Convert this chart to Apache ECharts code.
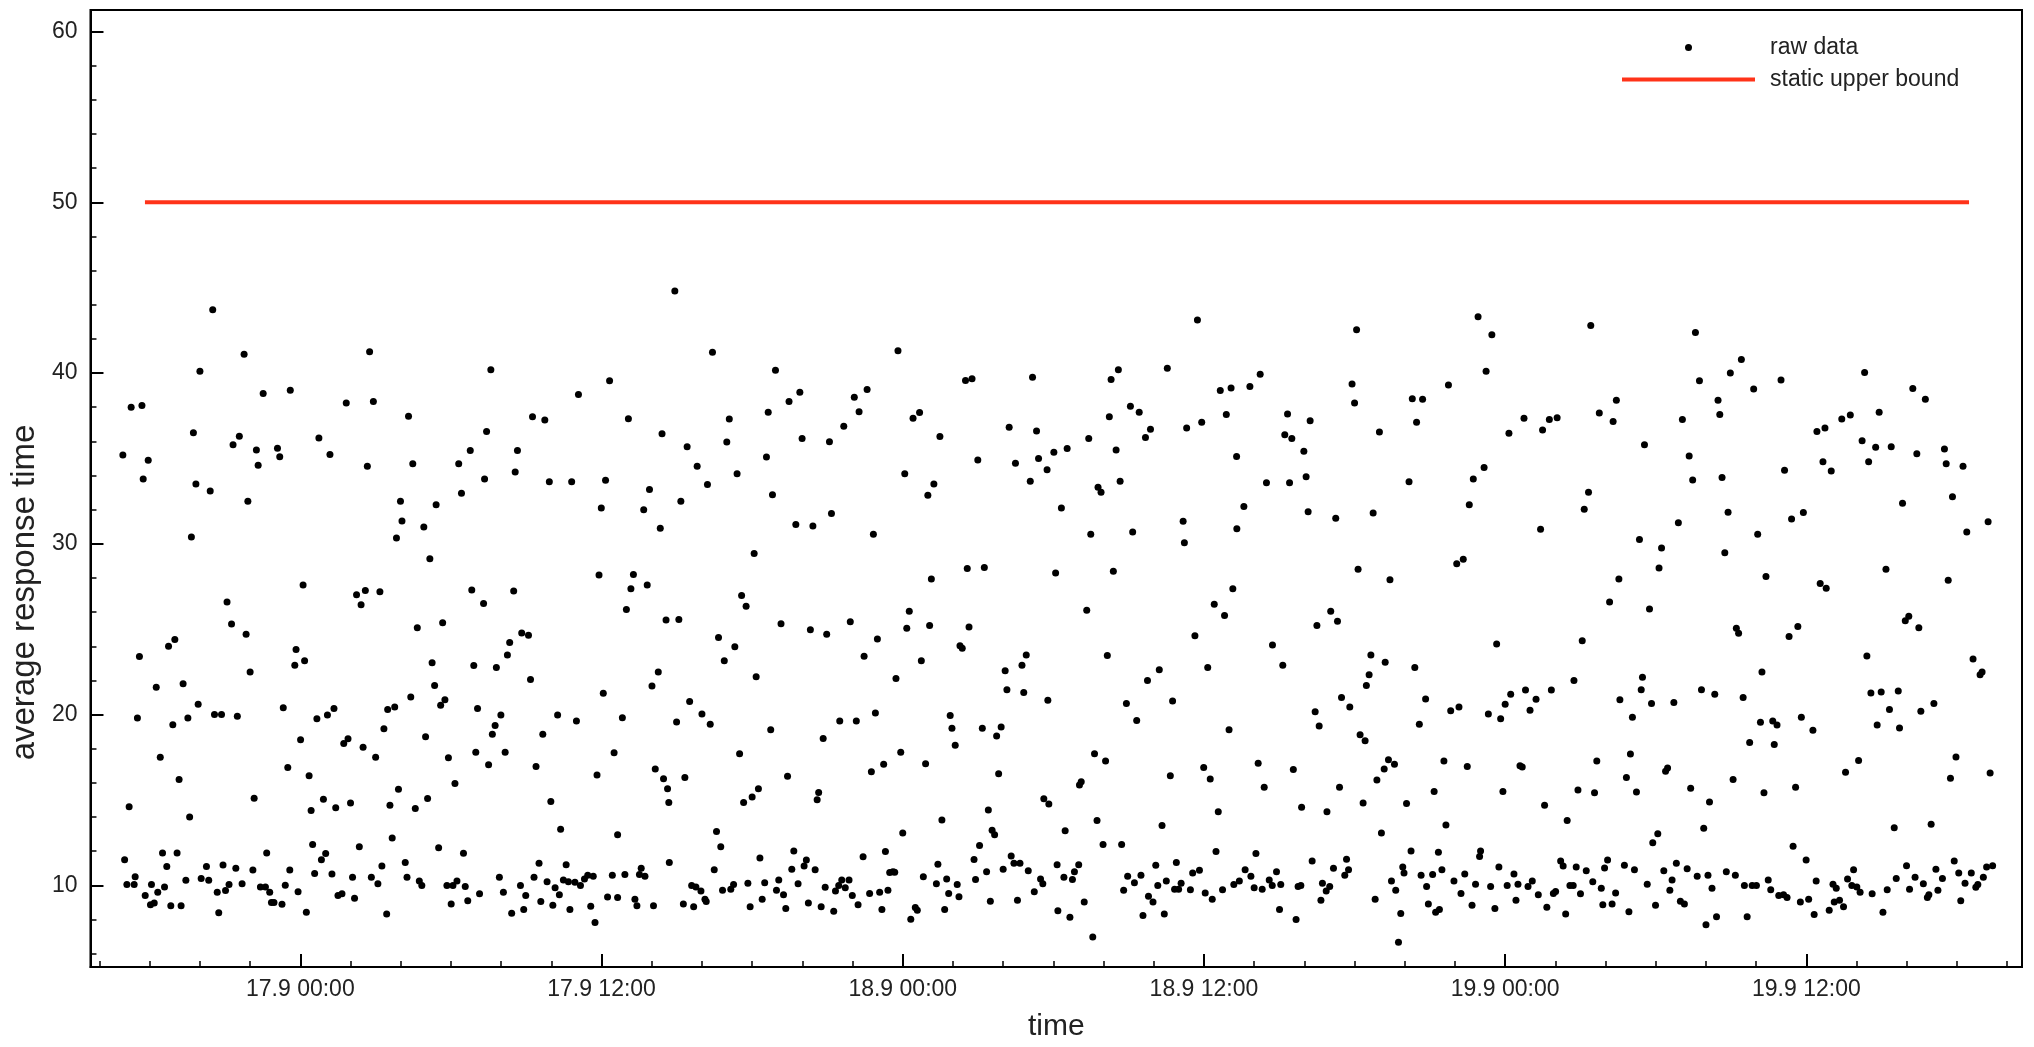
<!DOCTYPE html>
<html>
<head>
<meta charset="utf-8">
<script src="https://cdn.jsdelivr.net/npm/echarts@6/dist/echarts.min.js"></script>
<style>
html,body{margin:0;padding:0;background:#fff;}
#chart{width:2034px;height:1047px;}
</style>
</head>
<body>
<div id="chart"></div>
<script>
// x tick labels (ticks every 12 hours, starting 17.9 00:00)
const tickLabels = ['17.9 00:00', '17.9 12:00', '18.9 00:00', '18.9 12:00', '19.9 00:00', '19.9 12:00'];
// visible time range in hours relative to 17.9 00:00
const timeRangeHours = [-8.36, 68.59];
const valueRange = [5.22, 61.26];
// static upper bound
const upperBound = 50;
const upperBoundSpanHours = [-6.19, 66.48];
// raw data: [hours since 17.9 00:00, average response time]
const rawData = [
[-3.49,43.7],[-4.00,40.1],[-2.24,41.1],[-1.48,38.8],[-0.40,39.0],[-6.74,38.0],[-6.31,38.1],[-4.26,36.5],[-2.68,35.8],[-2.43,36.3],[-7.07,35.2],[-6.06,34.9],[-6.26,33.8],[-1.75,35.5],[-1.68,34.6],[-0.91,35.6],[-0.82,35.1],[-4.16,33.5],[-3.59,33.1],[-2.09,32.5],[-4.34,30.4],
[-2.92,26.6],[-2.74,25.3],[-2.16,24.7],[-2.00,22.5],[-6.41,23.4],[-5.25,24.0],[-5.00,24.4],[-4.67,21.8],[-5.74,21.6],[-6.49,19.8],[-4.07,20.6],[-4.48,19.8],[-5.08,19.4],[-3.42,20.0],[-3.14,20.0],[-2.51,19.9],[-0.68,20.4],[-5.58,17.5],[-4.83,16.2],[-6.82,14.6],[-4.41,14.0],[-1.84,15.1],[-0.50,16.9],
[-7.00,11.5],[-6.91,10.05],[-6.62,10.05],[-6.58,10.5],[-6.18,9.4],[-5.93,10.05],[-5.97,8.86],[-5.82,8.97],[-5.68,9.6],[-5.49,11.9],[-5.32,11.1],[-5.41,9.9],[-5.16,8.8],[-4.91,11.9],[-4.75,8.8],[-4.56,10.3],[-3.95,10.4],[-3.74,11.1],[-3.65,10.3],[-3.31,9.6],[-3.25,8.4],[-3.08,11.2],[-2.98,9.7],[-2.84,10.05],[-2.57,11.0],[-2.32,10.1],[-1.89,10.9],[-1.59,9.9],[-1.39,9.9],[-1.34,11.9],[-1.22,9.6],[-1.15,9.0],[-1.05,9.0],[-0.73,8.9],[-0.60,10.0],[-0.42,10.9],
[2.76,41.25],[1.83,38.25],[2.91,38.33],[4.31,37.47],[0.74,36.2],[1.18,35.23],[2.67,34.55],[4.48,34.69],[6.31,34.69],[6.77,35.47],[6.42,32.96],[3.99,32.5],[4.05,31.34],[3.83,30.34],[4.92,30.99],[5.41,32.29],[5.16,29.13],
[0.11,27.59],[2.24,27.02],[2.59,27.27],[2.42,26.43],[3.17,27.19],[6.83,27.29],[-0.17,23.81],[-0.22,22.89],[0.17,23.16],[4.66,25.08],[5.67,25.38],[5.25,23.03],[5.35,21.71],[5.59,20.55],[5.76,20.87],[6.91,22.87],[7.06,20.36],[0.66,19.76],[1.08,19.98],[1.34,20.36],[3.48,20.3],[3.76,20.44],[4.40,21.03],[3.33,19.17],[0.01,18.52],[1.73,18.31],[1.90,18.58],[2.50,18.09],[3.00,17.5],[4.99,18.71],[5.90,17.47],[6.99,17.79],[0.35,16.42],[0.43,14.39],[0.92,15.04],[1.41,14.55],[2.00,14.82],[3.91,15.63],[3.57,14.69],[4.58,14.5],[5.07,15.09],[6.16,15.96],
[0.49,12.4],[0.84,11.5],[1.01,11.86],[0.57,10.69],[-0.09,9.62],[0.24,8.43],[1.26,10.67],[1.50,9.4],[1.66,9.51],[2.16,9.24],[2.08,10.48],[2.35,12.26],[2.83,10.48],[3.09,10.1],[3.25,11.13],[3.44,8.32],[3.66,12.77],[4.18,11.34],[4.25,10.48],[4.74,10.26],[4.84,9.99],[5.51,12.21],[5.84,9.99],[6.08,9.99],[6.24,10.26],[6.01,8.91],[6.50,11.88],[6.57,9.94],[6.67,9.1],[7.14,9.51],
[7.59,40.19],[7.42,36.58],[12.32,39.55],[11.08,38.74],[9.25,37.44],[9.74,37.25],[8.65,35.47],[8.56,34.2],[13.07,37.33],[14.41,36.44],[7.34,33.8],[9.92,33.64],[10.81,33.64],[12.16,33.72],[11.99,32.1],[13.91,33.18],[13.68,31.99],[14.34,30.91],
[11.90,28.18],[13.17,27.37],[13.27,28.21],[13.82,27.59],[12.99,26.16],[14.57,25.54],[7.30,26.51],[8.50,27.24],[8.34,24.22],[8.25,23.49],[7.81,22.76],[8.82,24.78],[9.09,24.65],[9.17,22.06],[7.99,19.98],[7.76,19.36],[7.65,18.85],[8.16,17.79],[7.50,17.07],[10.25,19.98],[11.00,19.63],[9.66,18.85],[9.39,16.96],[9.98,14.91],[10.37,13.29],[12.07,21.25],[12.83,19.82],[11.82,16.47],[12.50,17.77],[12.64,12.96],[14.01,21.68],[14.26,22.49],[14.14,16.82],[14.47,16.25],[14.63,15.66],[14.68,14.85],
[7.93,10.48],[8.09,9.59],[8.42,8.37],[8.77,9.99],[8.90,8.59],[8.98,9.4],[9.31,10.48],[9.51,11.29],[9.58,9.05],[9.83,10.21],[10.06,8.83],[10.15,9.86],[10.32,9.45],[10.48,10.32],[10.59,11.21],[10.68,10.21],[10.74,8.59],[10.94,10.18],[11.16,9.99],[11.32,10.37],[11.45,10.59],[11.67,10.53],[11.57,8.78],[11.74,7.83],[12.24,9.32],[12.43,10.59],[12.64,9.29],[12.93,10.64],[13.33,9.18],[13.41,8.8],[13.51,10.64],[13.58,11.0],[13.73,10.53],[14.07,8.8],[14.70,11.34],
[14.92,44.81],[16.42,41.22],[18.93,40.17],[19.90,38.87],[19.47,38.33],[18.64,37.71],[17.09,37.31],[16.99,35.96],[15.41,35.69],[15.81,34.55],[17.40,34.1],[16.22,33.47],[18.57,35.09],[18.81,32.88],[19.99,36.17],[21.08,35.98],[21.65,36.88],[22.07,38.58],[22.26,37.74],[21.16,31.77],[19.74,31.13],[20.42,31.05],[15.16,32.5],[18.08,29.43],
[17.58,26.97],[17.76,26.35],[15.08,25.57],[16.66,24.51],[17.31,23.97],[16.89,23.16],[18.16,22.22],[19.15,25.32],[20.32,24.97],[20.97,24.7],[21.91,25.43],[15.51,20.76],[14.99,19.57],[16.00,20.03],[16.33,19.44],[18.74,19.12],[17.50,17.71],[20.83,18.6],[21.49,19.63],[22.15,19.63],[15.32,16.31],[17.66,14.85],[18.00,15.17],[18.25,15.66],[19.41,16.39],[20.65,15.44],[20.59,15.01],[16.58,13.15],[16.75,12.26],
[15.26,8.91],[15.67,8.75],[15.59,9.99],[15.76,9.91],[15.96,9.67],[16.12,9.18],[16.17,9.05],[16.49,10.91],[16.82,9.72],[17.15,9.78],[17.26,10.05],[17.83,10.13],[17.92,8.75],[18.31,11.61],[18.40,9.18],[18.50,10.16],[18.97,9.72],[19.06,10.32],[19.25,9.45],[19.34,8.64],[19.58,10.94],[19.66,12.02],[19.83,10.1],[20.07,11.13],[20.16,11.48],[20.24,8.97],[20.51,10.91],[20.75,8.75],[20.91,9.89],[21.25,8.48],[21.32,9.67],[21.45,9.99],[21.57,10.32],[21.71,9.86],[21.86,10.32],[21.99,9.4],[22.22,8.86],
[23.81,41.3],[22.58,39.03],[26.50,39.57],[26.76,39.66],[24.41,37.36],[24.67,37.69],[25.48,36.28],[24.08,34.1],[25.00,32.85],[25.24,33.5],[26.99,34.91],[28.24,36.82],[28.49,34.72],[29.17,39.76],[29.33,36.61],[29.41,34.99],[29.08,33.66],[29.75,34.34],[22.83,30.56],
[25.14,27.94],[26.57,28.56],[27.25,28.62],[24.26,26.05],[24.16,25.05],[25.07,25.22],[26.64,25.13],[22.99,24.43],[22.46,23.41],[26.28,24.03],[26.37,23.89],[24.74,23.16],[23.73,22.11],[28.08,22.57],[28.75,22.89],[28.92,23.49],[28.15,21.46],[28.82,21.3],[29.78,20.84],[22.91,20.09],[25.89,19.95],[25.96,19.2],[26.09,18.2],[27.17,19.2],[27.92,19.28],[27.74,18.74],[23.92,17.79],[23.24,17.09],[22.75,16.66],[24.91,17.12],[27.82,16.53],[29.62,15.07],[29.82,14.77],[25.56,13.83],[27.41,14.42],[24.00,13.07],[27.56,13.23],[27.66,12.96],
[22.42,11.67],[23.31,11.99],[22.68,9.53],[23.08,9.59],[23.41,9.72],[23.17,8.59],[23.48,10.75],[23.61,10.8],[23.68,10.77],[24.32,8.02],[24.50,8.7],[24.58,8.54],[24.82,10.51],[25.34,10.1],[25.40,11.24],[25.75,10.37],[25.83,9.53],[25.67,8.59],[26.17,10.05],[26.24,9.34],[26.84,11.51],[26.90,10.34],[27.06,12.34],[27.34,10.8],[27.49,9.07],[28.00,10.94],[28.32,11.72],[28.43,11.29],[28.67,11.29],[28.57,9.13],[29.00,10.86],[29.24,9.62],[29.49,10.37],[29.58,10.1],
[35.74,43.11],[34.54,40.28],[32.30,39.63],[32.59,40.19],[33.07,38.06],[33.42,37.71],[32.23,37.44],[33.87,36.71],[33.67,36.23],[35.31,36.79],[35.91,37.12],[36.65,38.98],[37.08,39.12],[36.89,37.58],[31.41,36.17],[30.55,35.58],[30.02,35.36],[32.50,35.5],[37.30,35.12],[30.32,32.1],[31.78,33.31],[31.90,33.02],[32.66,33.66],[35.17,31.32],[35.22,30.07],[37.31,30.88],[31.49,30.56],[33.16,30.69],
[30.09,28.29],[32.39,28.4],[31.33,26.11],[32.15,23.46],[36.41,26.46],[36.82,25.81],[37.15,27.37],[35.64,24.62],[36.15,22.76],[34.22,22.62],[33.75,22.0],[32.91,20.65],[33.32,19.66],[34.75,20.79],[37.00,19.12],[31.64,17.71],[32.08,17.28],[31.11,16.07],[31.04,15.88],[34.66,16.42],[35.99,16.9],[36.25,16.23],[30.47,13.2],[31.74,13.8],[34.33,13.5],[36.57,14.31],[31.98,12.4],[32.72,12.4],[36.48,11.99],
[30.15,11.21],[30.42,10.48],[30.76,10.34],[30.84,10.8],[31.01,11.21],[30.18,8.51],[30.66,8.13],[31.23,9.02],[31.57,6.97],[32.80,9.72],[32.96,10.53],[33.23,10.16],[33.49,10.59],[33.57,8.24],[33.79,9.37],[33.97,9.02],[34.16,9.99],[34.08,11.18],[34.42,8.32],[34.50,10.26],[34.90,11.34],[34.83,9.78],[34.99,9.78],[35.09,10.13],[35.46,9.75],[35.55,10.72],[35.82,10.88],[36.05,9.56],[36.33,9.18],[36.74,9.75],[37.19,10.05],[37.41,10.26],
[42.08,42.54],[38.24,39.93],[37.83,39.22],[41.90,39.36],[42.00,38.25],[44.30,38.49],[44.71,38.47],[44.47,37.12],[39.33,37.6],[40.23,37.2],[39.22,36.39],[39.50,36.17],[39.98,35.42],[42.99,36.55],[40.07,33.93],[38.49,33.58],[39.41,33.58],[44.17,33.64],[37.59,32.18],[40.15,31.88],[41.25,31.5],[42.74,31.8],
[42.14,28.51],[43.41,27.89],[41.05,26.05],[41.32,25.46],[40.50,25.22],[38.73,24.08],[39.14,22.89],[42.65,23.49],[43.22,23.06],[44.40,22.76],[42.58,22.33],[42.47,21.71],[41.48,21.0],[41.81,20.44],[40.43,20.17],[40.59,19.33],[44.83,20.92],[44.58,19.44],[42.22,18.82],[42.42,18.47],[38.16,17.15],[39.56,16.79],[38.40,15.74],[41.40,15.74],[42.89,16.17],[43.18,16.82],[43.35,17.36],[43.59,17.09],[39.89,14.58],[40.90,14.31],[42.34,14.82],[44.07,14.8],[43.07,13.07],
[38.07,11.86],[37.64,10.91],[37.87,10.53],[38.00,9.86],[38.32,9.78],[38.60,10.32],[38.72,9.99],[38.89,10.8],[39.06,10.05],[39.01,8.59],[39.67,8.0],[39.75,9.94],[39.86,9.99],[40.31,11.42],[40.66,9.13],[40.72,10.13],[40.87,9.67],[41.01,9.94],[41.16,11.0],[41.61,10.59],[41.68,11.53],[41.76,10.91],[42.82,9.18],[43.47,10.26],[43.64,9.72],[43.84,8.35],[43.75,6.67],[43.92,11.07],[43.97,10.72],[44.25,12.02],[44.65,10.59],[44.87,9.94],[44.94,8.91],
[46.92,43.3],[47.47,42.25],[51.41,42.79],[47.24,40.11],[45.74,39.3],[52.43,38.41],[51.75,37.66],[52.30,37.17],[48.75,37.36],[48.15,36.47],[49.49,36.66],[49.76,37.28],[50.07,37.39],[47.16,34.47],[46.73,33.8],[46.57,32.29],[51.32,33.02],[51.15,32.02],[49.41,30.86],[46.07,28.83],[46.33,29.1],
[52.53,27.94],[52.16,26.59],[47.66,24.14],[51.07,24.32],[50.74,22.0],[48.22,21.19],[48.00,20.6],[47.82,19.76],[47.33,20.03],[45.83,20.22],[46.16,20.44],[48.81,21.44],[49.23,20.9],[48.99,20.25],[49.84,21.44],[52.57,20.87],[45.56,17.28],[46.49,16.96],[48.59,17.01],[48.68,16.93],[51.65,17.28],[45.17,15.5],[47.91,15.5],[50.90,15.58],[51.56,15.42],[49.57,14.69],[45.64,13.53],[50.47,13.8],
[45.34,11.94],[45.11,10.64],[45.48,10.91],[45.38,8.59],[45.23,8.43],[45.96,10.26],[46.24,9.53],[46.39,10.67],[46.68,8.83],[46.82,10.07],[47.02,12.02],[46.98,11.69],[47.42,9.94],[47.59,8.64],[47.75,11.07],[48.08,9.99],[48.35,10.67],[48.43,9.13],[48.51,10.07],[48.91,9.94],[49.08,10.26],[49.32,9.45],[49.66,8.72],[49.92,9.53],[50.01,9.64],[50.21,11.42],[50.31,11.13],[50.41,8.32],[50.58,9.99],[50.71,9.99],[50.83,11.07],[51.00,9.51],[51.23,10.86],[51.49,10.21],[51.83,9.83],[51.89,8.86],[51.96,11.02],[52.08,11.48],[52.26,8.91],[52.40,9.56],
[55.58,42.38],[55.74,39.55],[56.97,40.01],[57.41,40.79],[57.90,39.06],[58.99,39.6],[56.48,38.41],[56.55,37.58],[55.06,37.28],[53.55,35.8],[55.33,35.15],[55.47,33.74],[56.64,33.88],[59.13,34.31],[56.88,31.85],[59.41,31.45],[59.88,31.83],[54.90,31.23],[58.06,30.56],[53.35,30.26],[54.23,29.75],[56.75,29.48],[54.13,28.59],[58.39,28.08],
[53.75,26.19],[57.21,25.05],[57.30,24.76],[59.31,24.57],[59.66,25.16],[58.23,22.49],[53.47,22.19],[53.42,21.46],[55.82,21.46],[56.35,21.19],[57.48,21.0],[53.83,20.65],[54.72,20.71],[53.07,19.84],[58.17,19.55],[58.66,19.63],[58.83,19.39],[59.80,19.84],[58.72,18.25],[57.74,18.36],[52.99,17.69],[54.39,16.69],[54.47,16.88],[52.83,16.31],[53.23,15.47],[57.08,16.2],[58.31,15.42],[59.57,15.74],[55.39,15.69],[56.14,14.88],[55.91,13.34],[53.88,12.5],[54.08,13.02],[59.47,12.29],[59.99,11.48],
[52.75,11.18],[53.15,10.91],[52.93,8.46],[53.66,10.07],[53.99,8.83],[54.32,10.86],[54.56,9.72],[54.65,10.32],[54.82,11.29],[54.98,9.07],[55.14,8.91],[55.25,10.97],[55.65,10.53],[56.00,7.7],[56.08,10.59],[56.24,9.83],[56.42,8.16],[56.81,10.8],[57.17,10.59],[57.53,9.99],[57.64,8.16],[57.84,9.99],[58.01,9.99],[58.48,10.32],[58.58,9.75],[58.90,9.4],[59.09,9.45],[59.23,9.29],[59.76,9.02],[60.09,9.18],
[62.32,40.03],[64.24,39.09],[64.74,38.47],[60.42,36.58],[60.74,36.79],[61.41,37.31],[61.75,37.55],[62.90,37.71],[62.22,36.04],[62.76,35.66],[63.38,35.69],[64.40,35.28],[65.50,35.55],[65.57,34.69],[66.24,34.55],[60.66,34.8],[60.99,34.26],[62.48,34.8],[63.83,32.37],[65.82,32.75],[67.24,31.29],[66.39,30.69],
[63.17,28.51],[60.55,27.67],[60.79,27.4],[65.65,27.86],[63.94,25.49],[64.08,25.76],[64.48,25.08],[62.41,23.43],[66.64,23.25],[66.92,22.33],[67.00,22.49],[62.57,21.27],[62.98,21.33],[63.66,21.38],[63.31,20.3],[62.82,19.39],[63.71,19.22],[64.56,20.2],[65.08,20.65],[60.26,19.09],[61.56,16.63],[62.08,17.31],[65.96,17.52],[65.74,16.28],[67.32,16.58],[63.50,13.37],[64.97,13.58],
[60.39,10.26],[60.31,8.29],[60.91,8.54],[61.06,10.07],[61.19,9.83],[61.11,9.02],[61.32,9.13],[61.48,8.75],[61.64,10.37],[61.88,10.91],[61.81,9.99],[62.01,9.91],[62.14,9.59],[62.62,9.51],[63.05,8.43],[63.22,9.75],[63.58,10.4],[63.99,11.15],[64.11,9.78],[64.33,10.48],[64.66,10.1],[64.82,9.29],[64.88,9.45],[65.16,10.94],[65.24,9.72],[65.42,10.4],[65.89,11.42],[66.07,10.72],[66.15,9.1],[66.32,10.13],[66.57,10.72],[66.75,9.89],[66.83,10.05],[67.05,10.48],[67.18,11.07],[67.42,11.15]
];

// axis works in half-day units so that the 12 h ticks land on whole numbers
const HOURS_PER_TICK = 12;
const toTick = h => h / HOURS_PER_TICK;

const FONT = '"Liberation Sans", Arial, Helvetica, sans-serif';
const chart = echarts.init(document.getElementById('chart'), null, {renderer: 'canvas'});

const option = {
  animation: false,
  backgroundColor: '#fff',
  textStyle: {fontFamily: FONT},
  grid: {left: 88, right: 12, top: 10, bottom: 70, show: true, borderColor: '#000', borderWidth: 2, backgroundColor: 'transparent'},
  legend: [
    {
      orient: 'vertical', left: 1685, top: 36, padding: 0,
      itemWidth: 133, itemHeight: 7,
      textStyle: {fontSize: 23, color: '#222', fontFamily: FONT, padding: [0, 0, 0, 10]},
      data: [{name: 'raw data', icon: 'circle'}]
    },
    {
      orient: 'vertical', left: 1622, top: 68, padding: 0,
      itemWidth: 133, itemHeight: 4,
      textStyle: {fontSize: 23, color: '#222', fontFamily: FONT, padding: [0, 0, 0, 10]},
      data: [{name: 'static upper bound', icon: 'rect'}]
    }
  ],
  xAxis: {
    type: 'value',
    min: toTick(timeRangeHours[0]),
    max: toTick(timeRangeHours[1]),
    splitNumber: 6,
    name: 'time',
    nameLocation: 'middle',
    nameGap: 45,
    nameTextStyle: {fontSize: 30, color: '#222', fontFamily: FONT},
    axisLine: {onZero: false, lineStyle: {color: '#000', width: 2}},
    axisTick: {inside: true, length: 13, lineStyle: {color: '#000', width: 2}},
    minorTick: {show: true, splitNumber: 6, length: 6, lineStyle: {color: '#000', width: 1.5}},
    splitLine: {show: false},
    axisLabel: {
      fontSize: 23, color: '#222', margin: 11, fontFamily: FONT,
      showMinLabel: false, showMaxLabel: false,
      formatter: v => {
        const i = Math.round(v);
        return (Math.abs(v - i) < 1e-6 && tickLabels[i] !== undefined) ? tickLabels[i] : '';
      }
    }
  },
  yAxis: {
    type: 'value',
    min: valueRange[0],
    max: valueRange[1],
    splitNumber: 5,
    name: 'average response time',
    nameLocation: 'middle',
    nameGap: 31,
    nameTextStyle: {fontSize: 33, color: '#222', fontFamily: FONT, padding: [0, 208, 0, 0]},
    axisLine: {onZero: false, lineStyle: {color: '#000', width: 2}},
    axisTick: {inside: true, length: 13, lineStyle: {color: '#000', width: 2}},
    minorTick: {show: true, splitNumber: 5, length: 6, lineStyle: {color: '#000', width: 1.5}},
    splitLine: {show: false},
    axisLabel: {
      fontSize: 23, color: '#222', margin: 13, fontFamily: FONT,
      showMinLabel: false, showMaxLabel: false,
      formatter: v => (Math.abs(v - Math.round(v)) < 1e-6 ? String(Math.round(v)) : '')
    }
  },
  series: [
    {
      name: 'raw data',
      type: 'scatter',
      symbol: 'circle',
      symbolSize: 7,
      itemStyle: {color: '#000', opacity: 1},
      data: rawData.map(d => [toTick(d[0]), d[1]]),
      z: 3
    },
    {
      name: 'static upper bound',
      type: 'line',
      showSymbol: false,
      symbol: 'none',
      itemStyle: {color: '#ff3319'},
      lineStyle: {color: '#ff3319', width: 4},
      data: upperBoundSpanHours.map(h => [toTick(h), upperBound]),
      z: 2
    }
  ]
};
chart.setOption(option);
</script>
</body>
</html>
